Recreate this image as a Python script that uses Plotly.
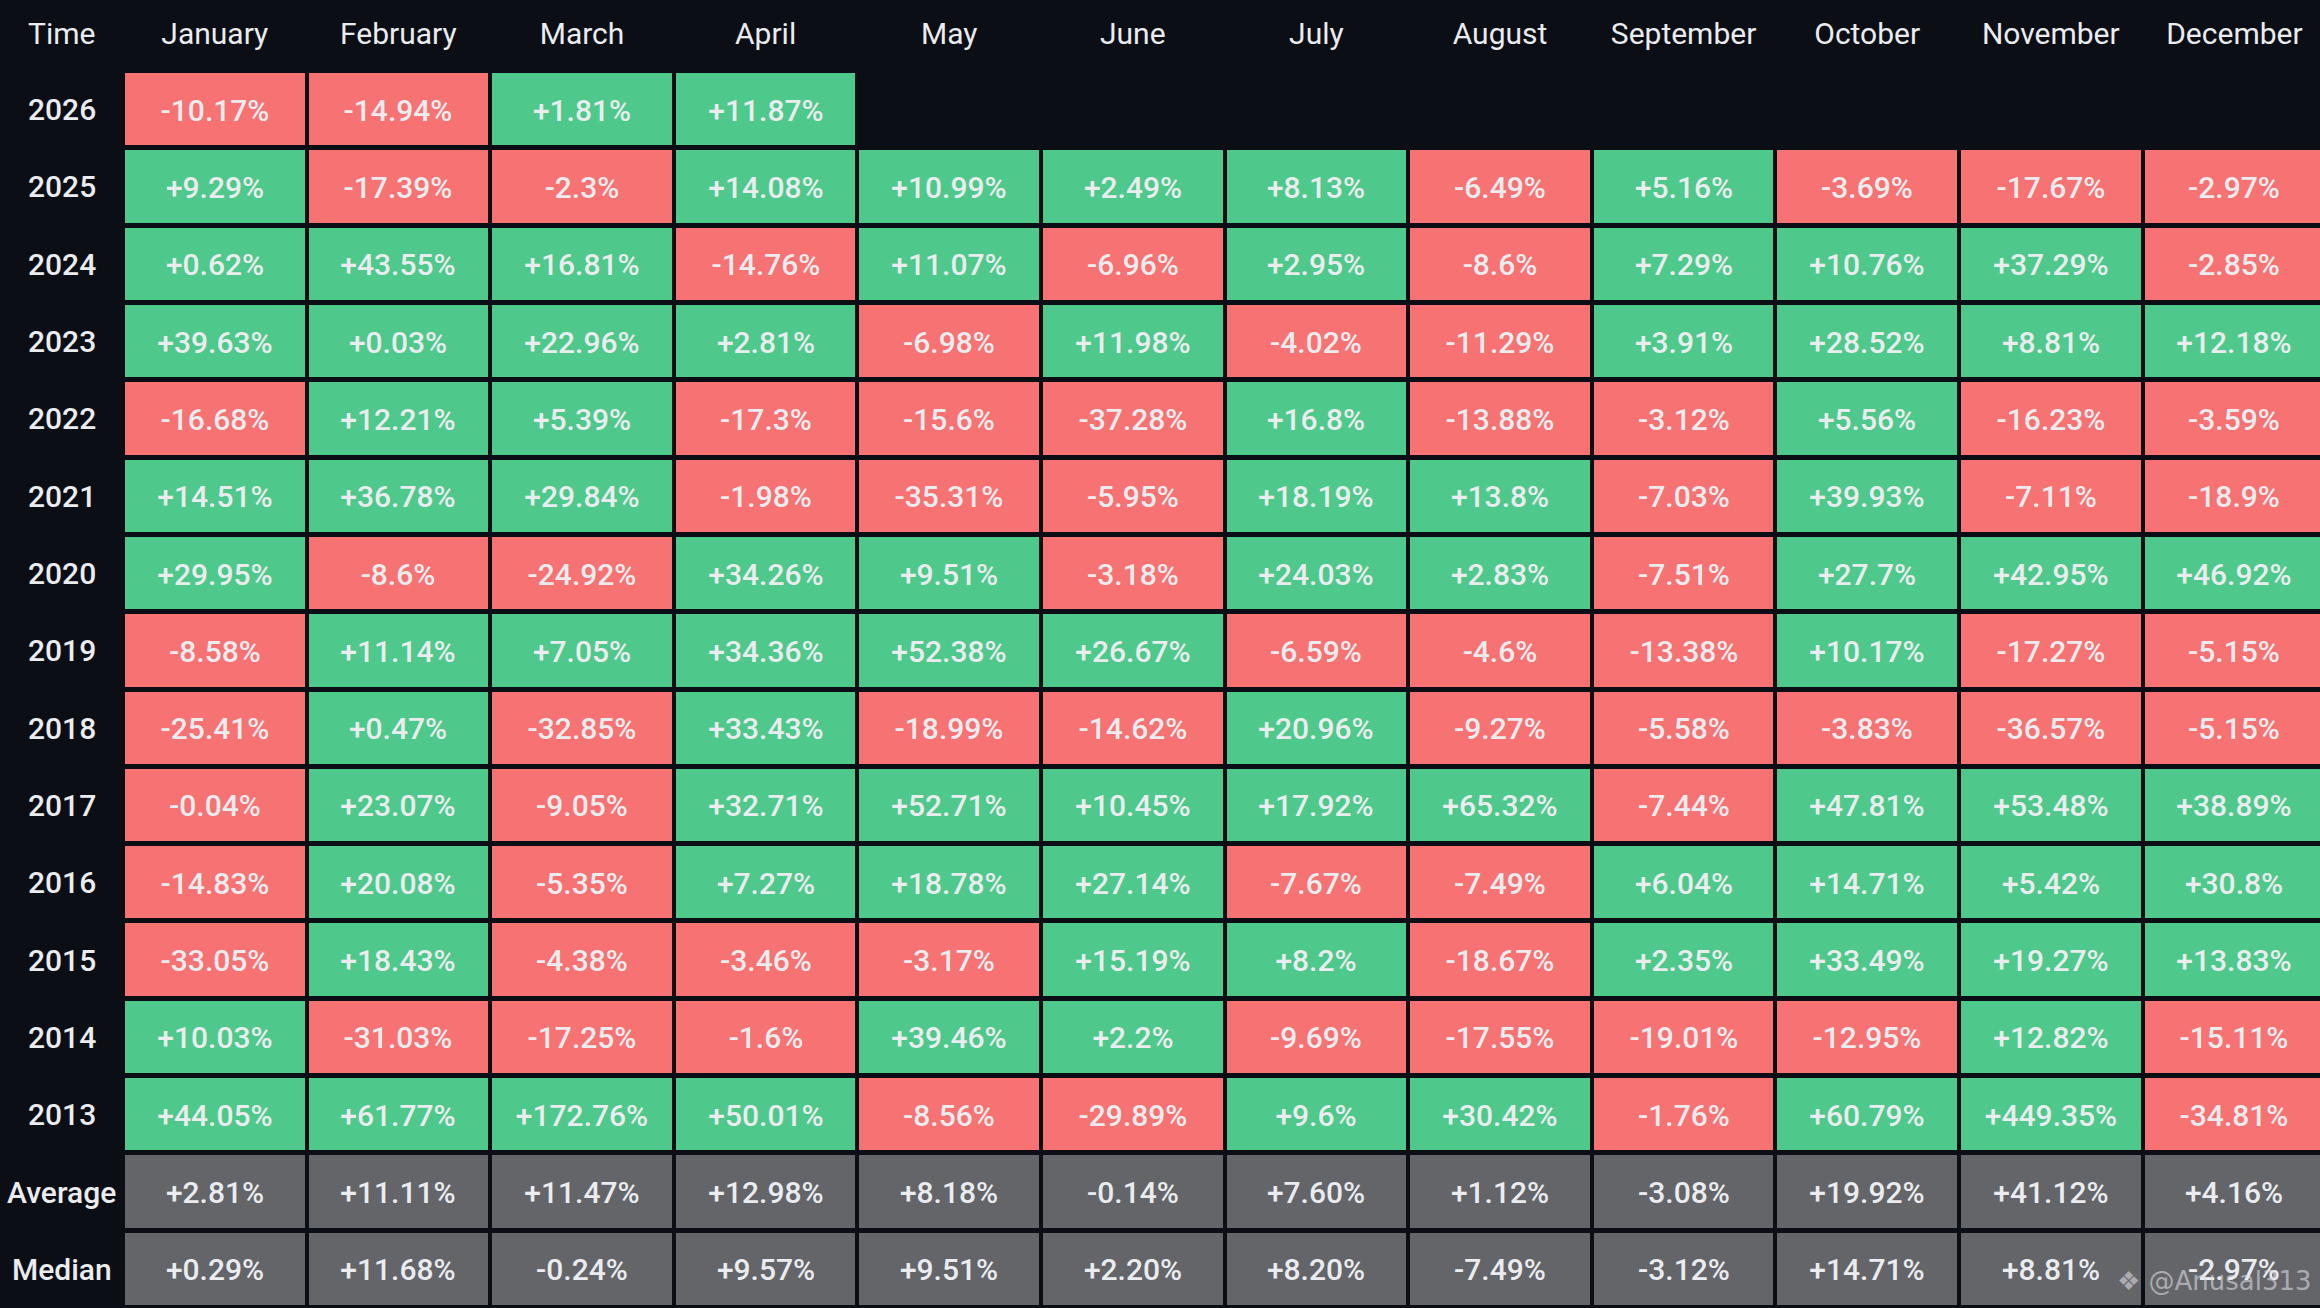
"""
Monthly returns table (2013-2026) drawn as a plotly heatmap with gaps.
"""

from plotly import graph_objects as go

MONTHS = ["January", "February", "March", "April", "May", "June",
          "July", "August", "September", "October", "November", "December"]

YEARS = ["2026", "2025", "2024", "2023", "2022", "2021", "2020", "2019",
         "2018", "2017", "2016", "2015", "2014", "2013"]

# None = month not reached yet
R2026 = [-10.17, -14.94, 1.81, 11.87, None, None, None, None, None, None, None, None]
R2025 = [9.29, -17.39, -2.3, 14.08, 10.99, 2.49, 8.13, -6.49, 5.16, -3.69, -17.67, -2.97]
R2024 = [0.62, 43.55, 16.81, -14.76, 11.07, -6.96, 2.95, -8.6, 7.29, 10.76, 37.29, -2.85]
R2023 = [39.63, 0.03, 22.96, 2.81, -6.98, 11.98, -4.02, -11.29, 3.91, 28.52, 8.81, 12.18]
R2022 = [-16.68, 12.21, 5.39, -17.3, -15.6, -37.28, 16.8, -13.88, -3.12, 5.56, -16.23, -3.59]
R2021 = [14.51, 36.78, 29.84, -1.98, -35.31, -5.95, 18.19, 13.8, -7.03, 39.93, -7.11, -18.9]
R2020 = [29.95, -8.6, -24.92, 34.26, 9.51, -3.18, 24.03, 2.83, -7.51, 27.7, 42.95, 46.92]
R2019 = [-8.58, 11.14, 7.05, 34.36, 52.38, 26.67, -6.59, -4.6, -13.38, 10.17, -17.27, -5.15]
R2018 = [-25.41, 0.47, -32.85, 33.43, -18.99, -14.62, 20.96, -9.27, -5.58, -3.83, -36.57, -5.15]
R2017 = [-0.04, 23.07, -9.05, 32.71, 52.71, 10.45, 17.92, 65.32, -7.44, 47.81, 53.48, 38.89]
R2016 = [-14.83, 20.08, -5.35, 7.27, 18.78, 27.14, -7.67, -7.49, 6.04, 14.71, 5.42, 30.8]
R2015 = [-33.05, 18.43, -4.38, -3.46, -3.17, 15.19, 8.2, -18.67, 2.35, 33.49, 19.27, 13.83]
R2014 = [10.03, -31.03, -17.25, -1.6, 39.46, 2.2, -9.69, -17.55, -19.01, -12.95, 12.82, -15.11]
R2013 = [44.05, 61.77, 172.76, 50.01, -8.56, -29.89, 9.6, 30.42, -1.76, 60.79, 449.35, -34.81]

AVERAGE = [2.81, 11.11, 11.47, 12.98, 8.18, -0.14, 7.60, 1.12, -3.08, 19.92, 41.12, 4.16]
MEDIAN = [0.29, 11.68, -0.24, 9.57, 9.51, 2.20, 8.20, -7.49, -3.12, 14.71, 8.81, -2.97]

YEAR_ROWS = [R2026, R2025, R2024, R2023, R2022, R2021, R2020,
             R2019, R2018, R2017, R2016, R2015, R2014, R2013]

RED = "#f77272"
GREEN = "#4ec98b"
GRAY = "#646568"
BG = "#0b0e14"
TEXT = "#eaecef"


def fmt_short(v):
	s = f"{v:+.2f}".rstrip("0").rstrip(".")
	return s + "%"


def make_table() -> go.Figure:
	row_labels = YEARS + ["Average", "Median"]
	z, text = [], []
	for row in YEAR_ROWS:
		z.append([None if v is None else (1 if v >= 0 else 0) for v in row])
		text.append(["" if v is None else fmt_short(v) for v in row])
	for row in (AVERAGE, MEDIAN):
		z.append([0.5] * len(row))
		text.append([f"{v:+.2f}%" for v in row])

	fig = go.Figure(go.Heatmap(
		x=MONTHS, y=row_labels, z=z, text=text,
		texttemplate="%{text}",
		textfont=dict(family="Roboto", size=30, color=TEXT, weight=500),
		colorscale=[[0, RED], [0.33, RED], [0.34, GRAY], [0.66, GRAY], [0.67, GREEN], [1, GREEN]],
		zmin=0, zmax=1, showscale=False,
		xgap=4, ygap=5, hoverinfo="skip",
	))

	# row labels, centered in the left column (y given as category index)
	left = 123
	plot_w = 2320 - left
	label_x = -(left / 2) / plot_w
	fig.add_annotation(
		x=label_x, xref="paper", y=1, yref="paper", yshift=38,
		text="Time", showarrow=False, xanchor="center", yanchor="middle",
		font=dict(family="Roboto", size=30, color=TEXT),
	)
	for i, lab in enumerate(row_labels):
		fig.add_annotation(
			x=label_x, xref="paper", y=i, yref="y",
			text=lab, showarrow=False, xanchor="center", yanchor="middle",
			font=dict(family="Roboto", size=30, color=TEXT, weight=500),
		)

	# watermark
	fig.add_annotation(
		x=1, y=0, xref="paper", yref="paper", xanchor="right", yanchor="bottom",
		xshift=-6, yshift=10, text="❖ @Anusal313", showarrow=False,
		font=dict(family="DejaVu Sans", size=26, color="rgba(220,220,225,0.6)"),
	)

	fig.update_layout(
		width=2320, height=1308,
		margin=dict(l=left, r=0, t=71, b=0),
		paper_bgcolor=BG, plot_bgcolor=BG,
		xaxis=dict(type="category", side="top", showgrid=False, zeroline=False, ticks="",
		           range=[-0.5, -0.5 + plot_w / 183.6],
		           tickfont=dict(family="Roboto", size=30, color=TEXT),
		           ticklabelstandoff=20),
		yaxis=dict(type="category", range=[len(row_labels) - 0.5, -0.5],
		           showgrid=False, zeroline=False, showticklabels=False, ticks=""),
	)
	return fig


if __name__ == "__main__":
	fig = make_table()
	fig.write_html(
		"out.html",
		config={"displayModeBar": False},
		post_script="document.body.style.margin='0';document.body.style.background='#0b0e14';",
	)
